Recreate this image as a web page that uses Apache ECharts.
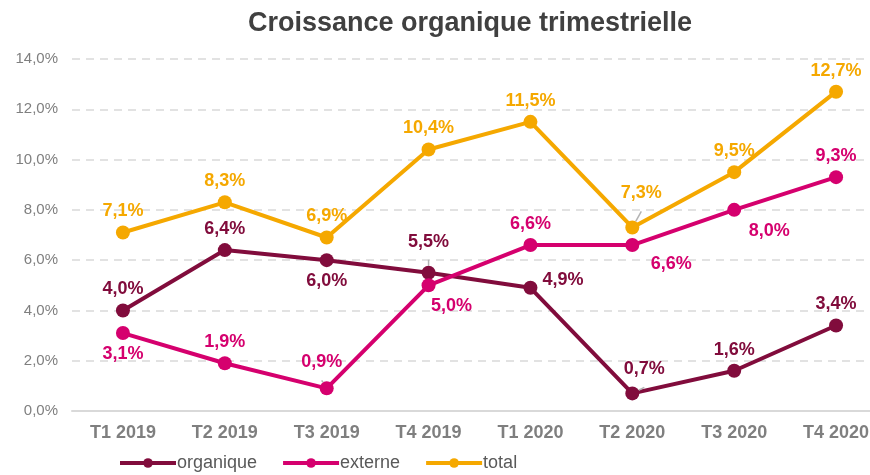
<!DOCTYPE html>
<html>
<head>
<meta charset="utf-8">
<script src="https://cdn.jsdelivr.net/npm/echarts@6/dist/echarts.min.js"></script>
<style>
  html, body { margin: 0; padding: 0; background: #fff; }
  #chart { width: 870px; height: 475px; }
</style>
</head>
<body>
<div id="chart"></div>
<script>
// trimestres
const quarters = ['T1 2019', 'T2 2019', 'T3 2019', 'T4 2019', 'T1 2020', 'T2 2020', 'T3 2020', 'T4 2020'];
// croissance en %
const organique = [4.0, 6.4, 6.0, 5.5, 4.9, 0.7, 1.6, 3.4];
const externe = [3.1, 1.9, 0.9, 5.0, 6.6, 6.6, 8.0, 9.3];
const total = [7.1, 8.3, 6.9, 10.4, 11.5, 7.3, 9.5, 12.7];
const yTicks = [0, 2, 4, 6, 8, 10, 12, 14];

const FONT = '"Liberation Sans", Arial, sans-serif';
const colors = { organique: '#810C3C', externe: '#D5006E', total: '#F5A800' };

// placement des étiquettes: [position, dx, dy, guide]
const placeOrg = [['top'], ['top'], ['bottom'], ['top', 0, -10, 1], ['right', 0, -8], ['top', 12, -3, 1], ['top'], ['top']];
const placeExt = [['bottom'], ['top'], ['top', -5, -5, 1], ['bottom', 23, 0], ['top'], ['bottom', 39, -2], ['bottom', 35, 0], ['top']];
const placeTot = [['top'], ['top'], ['top'], ['top'], ['top'], ['top', 9, -13, 1], ['top'], ['top']];

const fmt = v => v.toFixed(1).replace('.', ',') + '%';

function buildData(values, place) {
  return values.map((v, i) => {
    const p = place[i];
    const item = {
      value: v,
      label: { position: p[0], offset: [p[1] || 0, p[2] || 0] }
    };
    if (p[3]) item.labelLine = { show: true, lineStyle: { color: '#b3b3b3', width: 1.5 } };
    return item;
  });
}

function makeSeries(name, values, place) {
  const color = colors[name];
  return {
    name: name,
    type: 'line',
    data: buildData(values, place),
    symbol: 'circle',
    symbolSize: 14,
    lineStyle: { width: 4, color: color },
    itemStyle: { color: color },
    label: {
      show: true,
      distance: 5,
      color: color,
      fontFamily: FONT,
      fontWeight: 'bold',
      fontSize: 18,
      formatter: p => fmt(p.value)
    },
    labelLine: { show: false },
    emphasis: { disabled: true }
  };
}

const chart = echarts.init(document.getElementById('chart'));
chart.setOption({
  animation: false,
  backgroundColor: '#fff',
  title: {
    text: 'Croissance organique trimestrielle',
    left: 465,
    textAlign: 'center',
    top: 5,
    textStyle: { fontFamily: FONT, fontSize: 27, fontWeight: 'bold', color: '#404040' }
  },
  legend: {
    bottom: -2,
    left: 113,
    itemWidth: 56,
    itemHeight: 12,
    itemGap: 24,
    lineStyle: { width: 4 },
    textStyle: { fontFamily: FONT, fontSize: 18, color: '#595959', padding: [0, 0, 0, -4] },
    data: ['organique', 'externe', 'total']
  },
  grid: { left: 72, top: 59, right: -17, bottom: 64, outerBoundsMode: 'none', containLabel: false },
  xAxis: {
    type: 'category',
    data: quarters,
    axisLine: { lineStyle: { color: '#d9d9d9', width: 2 } },
    axisTick: { show: false },
    axisLabel: { fontFamily: FONT, fontSize: 18, fontWeight: 'bold', color: '#7f7f7f', margin: 13 }
  },
  yAxis: {
    type: 'value',
    min: yTicks[0],
    max: yTicks[yTicks.length - 1],
    interval: yTicks[1] - yTicks[0],
    axisLine: { show: false },
    axisTick: { show: false },
    axisLabel: { fontFamily: FONT, fontSize: 15, color: '#7f7f7f', margin: 14, formatter: v => fmt(v) },
    splitLine: { lineStyle: { color: '#d9d9d9', type: [8, 6], width: 1.5 } }
  },
  series: [
    makeSeries('organique', organique, placeOrg),
    makeSeries('externe', externe, placeExt),
    makeSeries('total', total, placeTot)
  ]
});
</script>
</body>
</html>
